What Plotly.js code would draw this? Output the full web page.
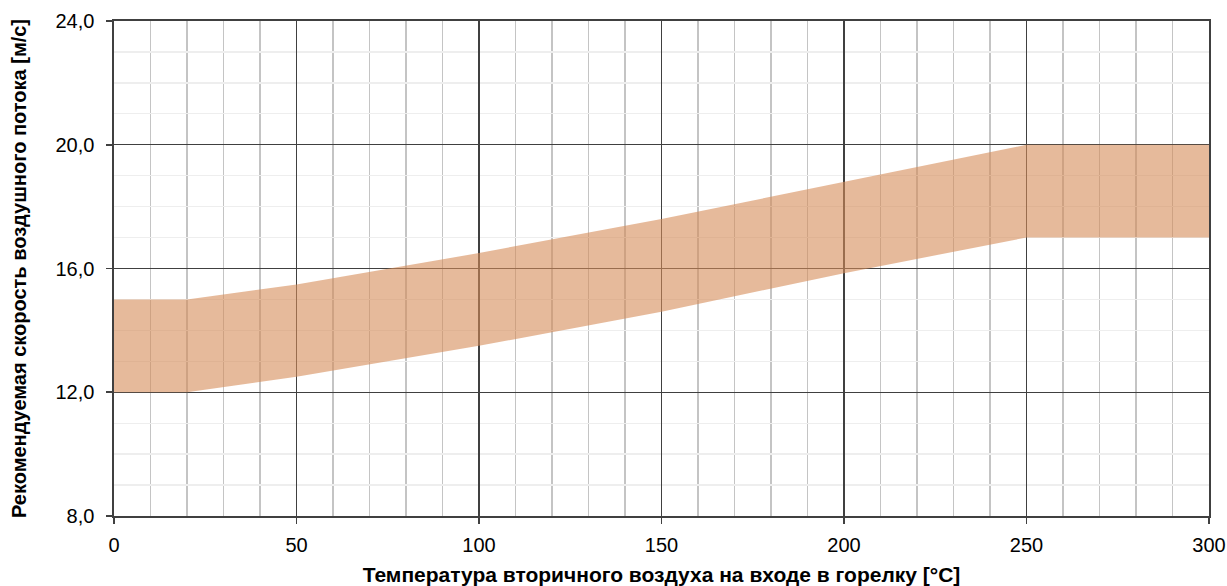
<!DOCTYPE html>
<html>
<head>
<meta charset="utf-8">
<script src="https://cdn.plot.ly/plotly-3.0.1.min.js"></script>
<style>html,body{margin:0;padding:0;background:#fff;}#chart{width:1227px;height:586px;}</style>
</head>
<body>
<div id="chart"></div>
<script>
const temperature = [0, 20, 50, 100, 150, 200, 250, 300];
const speedLower = [12, 12, 12.5, 13.5, 14.6, 15.85, 17, 17];
const speedUpper = [15, 15, 15.48, 16.5, 17.6, 18.8, 20, 20];
const xTickVals = [0, 50, 100, 150, 200, 250, 300];
const yTickVals = [8, 12, 16, 20, 24];
const xTitle = 'Температура вторичного воздуха на входе в горелку [°C]';
const yTitle = 'Рекомендуемая скорость воздушного потока [м/с]';

const bandColor = 'rgba(214,140,88,0.6)';
const traces = [
  {x: temperature, y: speedLower, type: 'scatter', mode: 'lines', line: {width: 0, color: bandColor}, hoverinfo: 'skip', showlegend: false},
  {x: temperature, y: speedUpper, type: 'scatter', mode: 'lines', line: {width: 0, color: bandColor}, fill: 'tonexty', fillcolor: bandColor, showlegend: false}
];
const fam = 'Liberation Sans, Arial, sans-serif';
const tickFont = {family: fam, size: 20, color: '#000'};
const layout = {
  width: 1227, height: 586,
  margin: {l: 114, r: 18, t: 21, b: 70},
  paper_bgcolor: '#fff', plot_bgcolor: '#fff',
  separators: ', ',
  font: tickFont,
  showlegend: false,
  xaxis: {
    range: [0, 300], tickvals: xTickVals, ticktext: xTickVals.map(String),
    showgrid: true, gridcolor: '#404040', gridwidth: 1.3,
    minor: {dtick: 10, tick0: 0, showgrid: true, gridcolor: '#c4c4c4', gridwidth: 1.3, ticks: ''},
    showline: true, linecolor: '#404040', linewidth: 1.6, mirror: true,
    ticks: 'outside', ticklen: 6, tickcolor: '#404040', tickwidth: 1.6,
    ticklabelstandoff: 4,
    zeroline: false, tickfont: tickFont, automargin: false,
    title: {text: xTitle, font: {family: fam, size: 21, color: '#000', weight: 'bold'}, standoff: 13}
  },
  yaxis: {
    range: [8, 24], tickvals: yTickVals, tickformat: '.1f',
    showgrid: true, gridcolor: '#404040', gridwidth: 1.3,
    minor: {dtick: 1, tick0: 0, showgrid: true, gridcolor: '#eeeeee', gridwidth: 1.3, ticks: ''},
    showline: true, linecolor: '#404040', linewidth: 1.6, mirror: true,
    ticks: 'outside', ticklen: 6, tickcolor: '#404040', tickwidth: 1.6,
    ticklabelstandoff: 8,
    zeroline: false, tickfont: tickFont, automargin: false,
    title: {text: yTitle, font: {family: fam, size: 20, color: '#000', weight: 'bold'}, standoff: 23}
  }
};
Plotly.newPlot('chart', traces, layout, {displayModeBar: false, staticPlot: true});
</script>
</body>
</html>
